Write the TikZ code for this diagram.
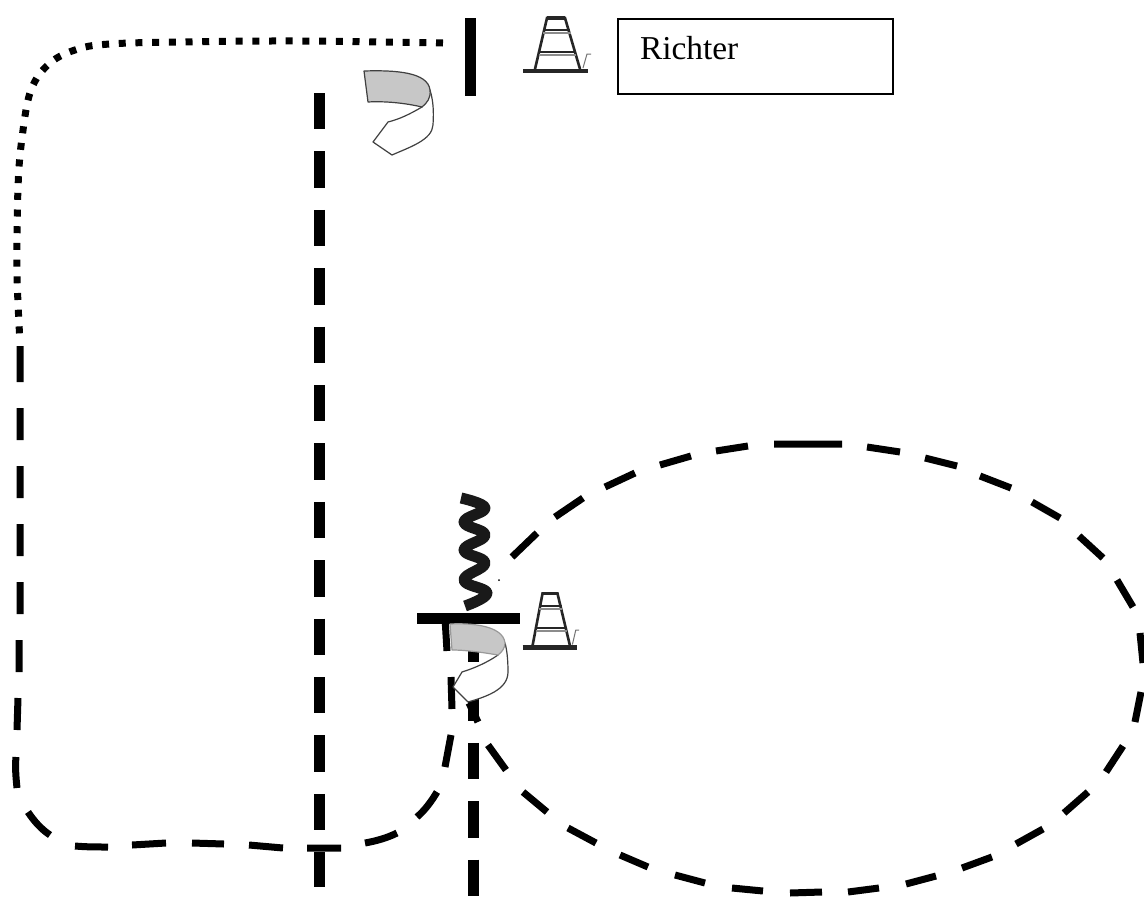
\documentclass[tikz,border=0pt]{standalone}
\usepackage{fontspec}
\setmainfont{Liberation Serif}
\begin{document}
\begin{tikzpicture}[x=1pt,y=-1pt,
  dashline/.style={line width=7pt},
  straightdash/.style={line width=11pt,dash pattern=on 36.3pt off 22.1pt},
  dotline/.style={line width=7pt,dash pattern=on 7pt off 9.7pt},
  bar/.style={line width=11pt},
  ribbonline/.style={draw=black!75,line width=1.2pt,line join=round},
  conepart/.style={draw=black!85,line width=2pt},
  labelbox/.style={draw=black,line width=1.4pt,fill=white,minimum width=275pt,minimum height=75pt,
    text width=231pt,inner xsep=22pt,inner ysep=0pt,outer sep=0pt,align=left,
    text height=22pt,text depth=16pt,font=\fontsize{33.4}{36}\selectfont},
  pics/cone/.style={code={
    \draw[conepart,line width=4.5pt] (-33,27) -- (32,27);
    \draw[conepart,line width=2.6pt] (-21,25) -- (-9,-26) -- (9,-26) -- (24,25);
    \draw[conepart,line width=3.2pt] (-9,-26) -- (9,-26);
    \draw[conepart] (-12,-14) -- (14,-14);
    \draw[conepart,draw=black!45] (-13,-11) -- (15,-11);
    \draw[conepart] (-16,8) -- (19,8);
    \draw[conepart,draw=black!45] (-17,11) -- (20,11);
    \draw[draw=black!55,line width=1pt] (27,24) -- (31,10) -- (35,10);
  }}]
\useasboundingbox (0,0) rectangle (1144,900);
\fill[white] (0,0) rectangle (1144,900);

\coordinate (v1a) at (319,93);
\coordinate (v1b) at (319,887);
\coordinate (v2a) at (473,626);
\coordinate (v2b) at (473,896);
\coordinate (barTopA) at (470,18);
\coordinate (barTopB) at (470,96);
\coordinate (barMidA) at (417,618);
\coordinate (barMidB) at (520,618);

% dotted route
\draw[dotline] plot[smooth,tension=.6] coordinates {(443,43) (300,41) (177,42) (110,44) (78,49) (50,63) (31,90) (22,138) (18,188) (17,272) (20,342)};
% dashed route
\draw[dashline]
  (445,618) -- (447,651)  (451,677) -- (452,709)  (451,735) -- (445,767)
  (437,792) .. controls (431,802) and (425,810) .. (417,817)
  (397,833) .. controls (387,838) and (376,841) .. (365,843)
  (341,848) -- (307,848)  (283,848) -- (249,845)  (224,844) -- (192,843)
  (166,843) -- (132,845)  (108,847) .. controls (97,847) and (86,847) .. (75,846)
  (50,835) .. controls (41,829) and (34,821) .. (28,812)
  (17,788) .. controls (16,778) and (15,767) .. (16,757)
  (17,730) -- (18,698)  (19,672) -- (19,640)  (20,614) -- (20,582)
  (20,556) -- (20,524)  (20,498) -- (20,466)  (20,440) -- (20,408)  (20,382) -- (20,346);
% loop
\draw[dashline]
  (512,557) -- (537,533)  (555,517) -- (583,498)  (605,487) -- (635,473)
  (660,465) -- (691,456)  (716,451) -- (748,446)  (774,444) -- (842,444)
  (867,447) -- (900,452)  (925,458) -- (957,466)  (980,476) -- (1011,488)
  (1032,502) -- (1060,518)  (1079,536) -- (1103,558)  (1117,580) -- (1133,607)
  (1140,633) -- (1143,663)  (1141,692) -- (1135,722)  (1123,746) -- (1106,772)
  (1088,792) -- (1064,813)  (1043,829) -- (1016,844)  (992,857) -- (962,868)
  (936,876) -- (906,884)  (879,888) -- (848,892)  (822,892) -- (790,893)
  (763,891) -- (732,888)  (705,883) -- (675,875)  (648,867) -- (620,855)
  (596,843) -- (568,828)  (547,812) -- (523,792)  (506,770) -- (488,745)
  (478,722) -- (469,703);
\fill (499,580) circle (1pt);
% straight dashes
\draw[straightdash] (v1a) -- (v1b);
\draw[straightdash] (v2a) -- (v2b);

% bars
\draw[bar] (barTopA) -- (barTopB);
\draw[bar] (barMidA) -- (barMidB);

% spring
\draw[line width=11pt,draw=black!90,line join=round]
  plot[smooth,tension=.75] coordinates {(461,498) (485,508) (464,522) (485,535) (464,550) (485,563) (464,580) (487,593) (465,606)};

% ribbons
\filldraw[ribbonline,fill=white] (422,107) .. controls (410,114) and (400,119) .. (388,122) -- (373,142) -- (392,155)
  .. controls (410,147) and (432,140) .. (433,125) .. controls (434,110) and (433,100) .. (430,90) -- cycle;
\filldraw[ribbonline,fill=black!22] (364,71) .. controls (395,70) and (428,72) .. (430,90)
  .. controls (431,98) and (427,103) .. (422,107) .. controls (405,103) and (385,101) .. (368,102) -- cycle;

\filldraw[ribbonline,fill=white] (498,655) .. controls (488,662) and (475,668) .. (462,672) -- (453,687) -- (468,702)
  .. controls (485,697) and (508,690) .. (508,672) .. controls (508,660) and (507,650) .. (505,643) -- cycle;
\filldraw[ribbonline,draw=black!40,fill=black!22] (450,624) .. controls (470,623) and (503,625) .. (505,643)
  .. controls (505,648) and (502,652) .. (498,655) .. controls (480,652) and (465,650) .. (452,650) -- cycle;

% cones
\pic at (556,44) {cone};
\pic[xscale=.83,yscale=1.02] at (550,620) {cone};

% label
\node[labelbox,anchor=north west] (richter) at (618,19) {Richter};
\end{tikzpicture}
\end{document}
